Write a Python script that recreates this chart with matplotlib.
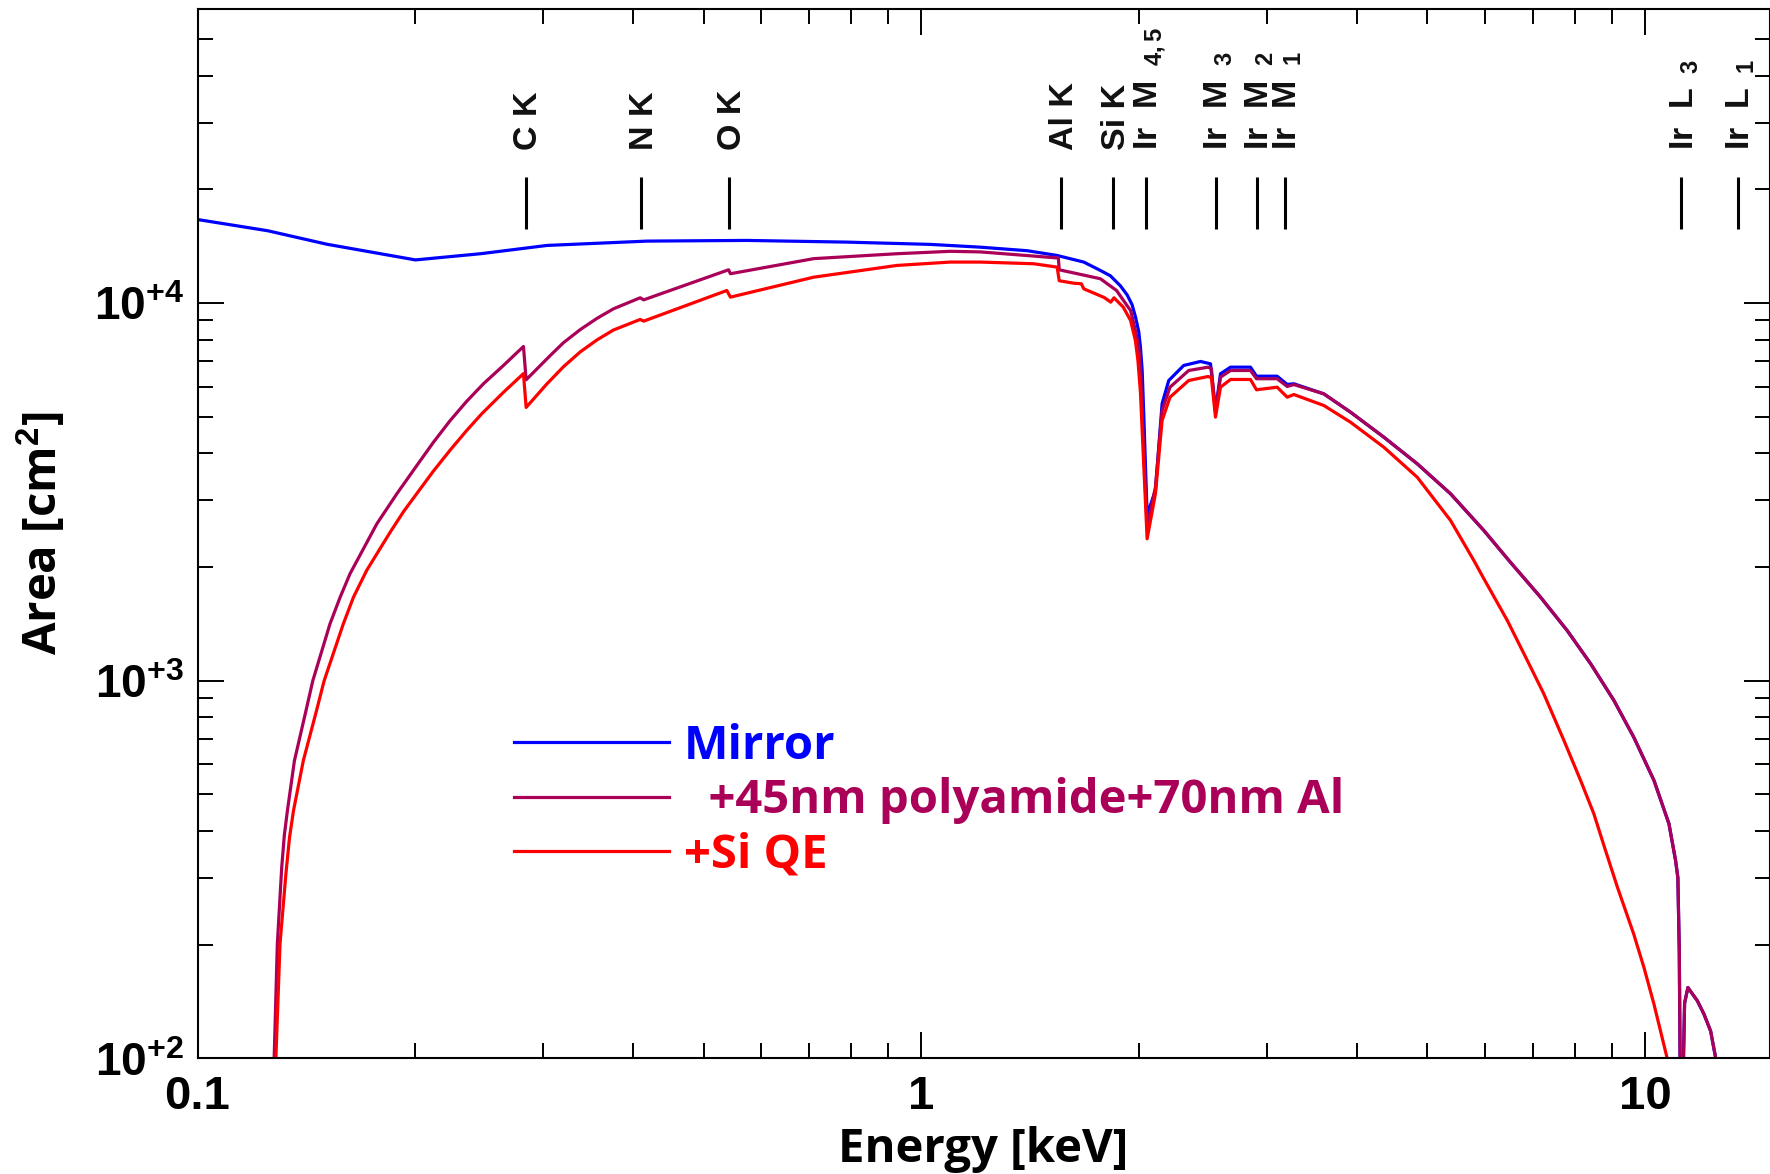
import matplotlib
matplotlib.use('Agg')
from matplotlib import pyplot as plt
from matplotlib import transforms
from matplotlib.ticker import FixedLocator, FuncFormatter, LogLocator, NullFormatter

plt.rcParams['mathtext.fontset'] = 'custom'
plt.rcParams['mathtext.rm'] = 'Liberation Sans:bold'
plt.rcParams['mathtext.bf'] = 'Liberation Sans:bold'
plt.rcParams['mathtext.it'] = 'Liberation Sans:bold:italic'

# effective area curves (energy in keV, area in cm^2)
mirrorE = [0.100, 0.125, 0.151, 0.200, 0.246, 0.304, 0.418, 0.574, 0.789, 1.029,
           1.206, 1.400, 1.539, 1.676, 1.767, 1.824, 1.883, 1.924, 1.954, 1.975,
           1.996, 2.007, 2.018, 2.028, 2.050, 2.105, 2.150, 2.196, 2.303, 2.429,
           2.508, 2.548, 2.589, 2.673, 2.848, 2.903, 3.100, 3.201, 3.269, 3.596,
           3.915, 4.353, 4.841, 5.382, 5.984, 6.480, 7.166, 7.800, 8.405, 9.050,
           9.640, 10.28, 10.78, 11.01, 11.09, 11.14, 11.19, 11.23, 11.33, 11.45,
           11.80, 12.05, 12.31, 12.51, 12.70]
mirrorA = [16630, 15530, 14300, 13000, 13500, 14200, 14580, 14640, 14490, 14290,
           14050, 13750, 13360, 12830, 12190, 11800, 11100, 10500, 9900, 9200,
           8400, 7640, 6625, 5100, 2750, 3187, 5408, 6233, 6831, 7000,
           6900, 5190, 6494, 6761, 6761, 6399, 6399, 6084, 6110, 5746,
           5139, 4412, 3751, 3124, 2497, 2080, 1663, 1357, 1108, 886,
           708, 544, 418, 334, 301, 193, 60, 60, 140, 154,
           142, 131, 118, 100, 80]

filterE = [0.1265, 0.1276, 0.1289, 0.1307, 0.1318, 0.1331, 0.1361, 0.1412, 0.1443, 0.1524,
           0.1574, 0.1624, 0.1769, 0.1885, 0.2009, 0.2118, 0.2234, 0.2355, 0.2483, 0.2646,
           0.2820, 0.2844, 0.3069, 0.3203, 0.3378, 0.3562, 0.3755, 0.4088, 0.4133, 0.5415,
           0.5447, 0.7096, 0.925, 1.096, 1.206, 1.400, 1.546, 1.550, 1.767, 1.860,
           1.930, 1.945, 1.975, 1.996, 2.008, 2.018, 2.050, 2.105, 2.150, 2.205,
           2.340, 2.490, 2.515, 2.548, 2.589, 2.673, 2.848, 2.903, 3.100, 3.201,
           3.269, 3.596, 3.915, 4.353, 4.841, 5.382, 5.984, 6.480, 7.166, 7.800,
           8.405, 9.050, 9.640, 10.28, 10.78, 11.01, 11.09, 11.14, 11.19, 11.23,
           11.33, 11.45, 11.80, 12.05, 12.31, 12.51, 12.70]
filterA = [60, 100, 201, 320, 390, 453, 614, 833, 1000, 1414,
           1663, 1918, 2602, 3124, 3713, 4279, 4885, 5495, 6110, 6831,
           7670, 6260, 7250, 7850, 8500, 9100, 9650, 10320, 10190, 12240,
           11950, 13100, 13500, 13700, 13650, 13350, 13150, 12240, 11590, 10790,
           9748, 9554, 8456, 7640, 6625, 5089, 2550, 3252, 5190, 5984,
           6625, 6761, 6695, 5139, 6361, 6625, 6625, 6300, 6300, 6009,
           6080, 5746, 5139, 4412, 3751, 3124, 2497, 2080, 1663, 1357,
           1108, 886, 708, 544, 418, 334, 301, 193, 60, 60,
           140, 154, 142, 131, 118, 100, 80]

qeE = [0.1272, 0.1283, 0.1300, 0.1325, 0.1340, 0.1357, 0.1400, 0.1460, 0.1496, 0.1590,
       0.1642, 0.1713, 0.1845, 0.1925, 0.2009, 0.2118, 0.2234, 0.2355, 0.2470, 0.2646,
       0.2820, 0.2844, 0.3037, 0.3203, 0.3378, 0.3562, 0.3755, 0.4088, 0.4133, 0.5385,
       0.5447, 0.7096, 0.925, 1.096, 1.206, 1.429, 1.540, 1.550, 1.623, 1.663,
       1.676, 1.788, 1.826, 1.845, 1.900, 1.945, 1.975, 1.991, 2.007, 2.018,
       2.050, 2.105, 2.150, 2.205, 2.340, 2.490, 2.515, 2.548, 2.589, 2.673,
       2.848, 2.903, 3.100, 3.201, 3.269, 3.596, 3.915, 4.353, 4.841, 5.382,
       5.796, 5.984, 6.447, 6.870, 7.240, 7.720, 8.140, 8.490, 8.770, 9.150,
       9.640, 9.956, 10.28, 10.72, 10.90]
qeA = [60, 100, 201, 310, 385, 453, 614, 833, 1000, 1414,
       1663, 1960, 2470, 2800, 3130, 3590, 4080, 4600, 5090, 5800,
       6500, 5290, 6100, 6780, 7420, 7980, 8480, 9043, 8950, 10790,
       10360, 11700, 12570, 12830, 12830, 12700, 12440, 11450, 11280, 11240,
       10900, 10340, 10050, 10320, 9750, 8988, 7957, 7040, 5800, 4595,
       2374, 3124, 4885, 5630, 6233, 6388, 6339, 4985, 5984, 6272,
       6272, 5890, 5984, 5630, 5723, 5353, 4834, 4150, 3456, 2655,
       2080, 1861, 1443, 1131, 923, 694, 544, 444, 365, 284,
       213, 174, 139, 100, 80]

# absorption edges marked at the top
edgeE = [0.284, 0.410, 0.543, 1.560, 1.839, 2.040, 2.551, 2.909, 3.174, 11.215, 13.419]
edgeNames = ['C K', 'N K', 'O K', 'Al K', 'Si K', r'Ir  M$_{\ \ 4,5}$', r'Ir  M$_{\ \ 3}$',
             r'Ir  M$_{\ \ 2}$', r'Ir  M$_{\ \ 1}$', r'Ir  L$_{\ \ 3}$', r'Ir  L$_{\ \ 1}$']

seriesNames = ['Mirror', '  +45nm polyamide+70nm Al', '+Si QE']
seriesColors = ['#0000FF', '#AA0058', '#FF0000']

xTicks = [0.1, 1, 10]
xTickLabels = ['0.1', '1', '10']
yTicks = [1e2, 1e3, 1e4]
yTickLabels = [r'$\mathbf{10}^{\mathbf{+2}}$', r'$\mathbf{10}^{\mathbf{+3}}$', r'$\mathbf{10}^{\mathbf{+4}}$']


def main():
    fig = plt.figure(figsize=(17.7, 11.74), dpi=100)
    ax = fig.add_axes([0.1116, 0.0985, 0.8882, 0.8938])

    curves = [(mirrorE, mirrorA), (filterE, filterA), (qeE, qeA)]
    for (e, a), name, color in zip(curves, seriesNames, seriesColors):
        ax.plot(e, a, color=color, lw=2.3, label=name)

    ax.set_xscale('log')
    ax.set_yscale('log')
    ax.set_xlim(0.1, 14.85)
    ax.set_ylim(100, 6.0e4)

    ax.xaxis.set_major_locator(FixedLocator(xTicks))
    ax.xaxis.set_major_formatter(FuncFormatter(lambda v, p: xTickLabels[xTicks.index(v)] if v in xTicks else ''))
    ax.xaxis.set_minor_locator(LogLocator(base=10, subs=range(2, 10), numticks=20))
    ax.xaxis.set_minor_formatter(NullFormatter())
    ax.yaxis.set_major_locator(FixedLocator(yTicks))
    ax.yaxis.set_major_formatter(FuncFormatter(lambda v, p: yTickLabels[yTicks.index(v)] if v in yTicks else ''))
    ax.yaxis.set_minor_locator(LogLocator(base=10, subs=range(2, 10), numticks=20))
    ax.yaxis.set_minor_formatter(NullFormatter())

    ax.tick_params(which='both', direction='in', top=True, right=True, width=1.4, color='black')
    ax.tick_params(which='major', length=18.5)
    ax.tick_params(which='minor', length=10.5)
    ax.tick_params(axis='x', which='major', pad=12, labelsize=34)
    ax.tick_params(axis='y', which='major', pad=10, labelsize=33)
    for lbl in ax.get_xticklabels():
        lbl.set_fontfamily('Liberation Sans')
        lbl.set_fontweight('bold')
    for spine in ax.spines.values():
        spine.set_linewidth(1.5)

    ax.set_xlabel('Energy [keV]', fontsize=34, fontfamily='Open Sans', fontweight='bold')
    ax.set_ylabel(r'Area [cm$^{2}$]', fontsize=34, fontfamily='Open Sans', fontweight='bold')
    ax.xaxis.set_label_coords(0.5, -0.064)
    ax.yaxis.set_label_coords(-0.082, 0.5)

    # edge markers
    ax.vlines(edgeE, 0.79, 0.84, transform=ax.get_xaxis_transform(), colors='black', lw=2.2)
    trans = transforms.offset_copy(ax.get_xaxis_transform(), fig=fig, x=8.5, y=0, units='points')
    for e, name in zip(edgeE, edgeNames):
        ax.text(e, 0.866, name, transform=trans, rotation=90, rotation_mode='anchor',
                ha='left', va='baseline', fontsize=24.5, fontfamily='Liberation Sans',
                fontweight='bold', color='#111111')

    ax.legend(loc='upper left', bbox_to_anchor=(0.201, 0.320), frameon=False,
              handlelength=3.3, handletextpad=0.3, labelspacing=0.16,
              borderpad=0, borderaxespad=0, labelcolor='linecolor',
              prop={'family': 'Open Sans', 'weight': 'bold', 'size': 34})

    fig.savefig('out.png', dpi=100)


if __name__ == '__main__':
    main()
